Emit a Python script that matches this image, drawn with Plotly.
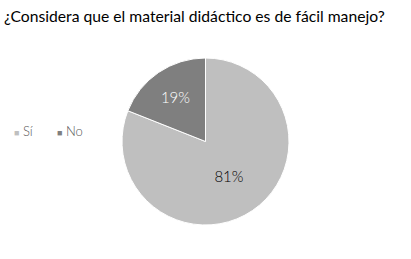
import plotly.graph_objects as go

labels = ["Sí", "No"]
values = [81, 19]
colors = ["#bfbfbf", "#7f7f7f"]
text_colors = ["#000000", "#ffffff"]
title_text = "¿Considera que el material didáctico es de fácil manejo?"

W, H = 411, 259


def fx(x):
    return x / W


def fy(y):
    return 1 - y / H


fig = go.Figure(go.Pie(
    labels=labels,
    values=values,
    sort=False,
    direction="clockwise",
    rotation=0,
    marker=dict(colors=colors, line=dict(color="white", width=1)),
    textinfo="percent",
    texttemplate="%{percent:.0%}",
    textposition="inside",
    insidetextfont=dict(color=text_colors, size=15, family="Lato", weight=300),
    domain=dict(x=[fx(122), fx(289)], y=[fy(225), fy(58)]),
    hoverinfo="skip",
    showlegend=False,
))

annotations = []
legend_x = [12, 55]
for lab, col, lx in zip(labels, colors, legend_x):
    annotations.append(dict(
        x=fx(lx), y=fy(131), xref="paper", yref="paper",
        xanchor="left", yanchor="middle", showarrow=False,
        text=f"<span style='color:{col};font-size:9px'>■</span> {lab}",
        font=dict(size=13, family="Lato", color="#595959", weight=300),
    ))

fig.update_layout(
    width=W, height=H,
    margin=dict(l=0, r=0, t=0, b=0),
    paper_bgcolor="white",
    plot_bgcolor="white",
    font=dict(family="Lato", color="#000000"),
    title=dict(
        text=title_text,
        x=fx(4), xanchor="left",
        y=fy(16.5), yanchor="middle",
        xref="container", yref="container",
        font=dict(size=15.7, family="Lato", color="#000000"),
    ),
    annotations=annotations,
)

fig.write_html(
    "out.html",
    config={"displayModeBar": False, "staticPlot": True},
    post_script="document.body.style.margin='0';document.body.style.overflow='hidden';",
)
